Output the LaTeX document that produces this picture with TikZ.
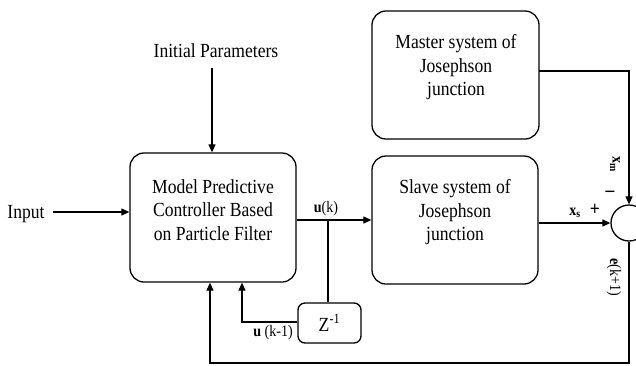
\documentclass[tikz,border=0pt]{standalone}
\usepackage{fontspec}
\setmainfont{Liberation Serif}[FakeStretch=0.88]
\usetikzlibrary{arrows.meta}
\tikzset{
  x=1pt,y=-1pt,
  blk/.style={draw,line width=1.3pt,rounded corners=14pt,inner sep=0pt},
  txt/.style={align=center,font=\fontsize{20}{23.5}\selectfont,inner sep=0pt},
  lbl/.style={font=\fontsize{16}{18}\selectfont,inner sep=0pt},
  sgn/.style={font=\fontsize{20}{20}\selectfont\bfseries,inner sep=0pt},
  conn/.style={line width=1.2pt},
  arr/.style={conn,-{Triangle[length=8pt,width=7pt]}},
}
\begin{document}
\begin{tikzpicture}
\useasboundingbox (0,0) rectangle (636,365);
\clip (0,0) rectangle (636,365);
% blocks
\node[blk,minimum width=166pt,minimum height=129pt] (ctrl) at (213,217.5) {};
\node[txt] (ctrltxt) at (213,210) {Model Predictive\\Controller Based\\on Particle Filter};
\node[blk,minimum width=167pt,minimum height=128pt] (master) at (455.5,75) {};
\node[txt] (mastertxt) at (456,67.5) {Master system of\\Josephson\\junction};
\node[blk,minimum width=166pt,minimum height=128pt] (slave) at (455,220) {};
\node[txt] (slavetxt) at (455,212.5) {Slave system of\\Josephson\\junction};
\node[blk,rounded corners=7pt,minimum width=63pt,minimum height=40pt,font=\fontsize{20}{23}\selectfont] (zinv) at (329.5,323) {Z\textsuperscript{-1}};
\node[draw,circle,line width=1.3pt,minimum size=36pt,inner sep=0pt] (sum) at (629,223) {};
% texts
\node[txt] (ip) at (216,51) {Initial Parameters};
\node[txt] (inp) at (26,214) {Input};
% coordinates
\coordinate (ipa) at (212,68);
\coordinate (ina) at (53,212);
\coordinate (uk) at (328,220);
\coordinate (ukm) at (242,322);
\coordinate (fb) at (210,363);
\coordinate (mo) at (539,71);
% connectors
\draw[arr] (ipa) -- (ipa |- ctrl.north);
\draw[arr] (ina) -- (ina -| ctrl.west);
\draw[arr] (uk -| ctrl.east) -- (uk -| slave.west);
\draw[conn] (uk) -- (uk |- zinv.north);
\draw[arr] (zinv.west |- ukm) -- (ukm) -- (ukm |- ctrl.south);
\draw[arr] (sum.south) |- (fb) -- (fb |- ctrl.south);
\draw[arr] (slave.east |- sum.west) -- (sum.west);
\draw[arr] (mo) -| (sum.north);
% labels
\node[lbl] (uklbl) at (326,209) {\textbf{u}(k)};
\node[lbl] (ukmlbl) at (273,333) {\textbf{u} (k-1)};
\node[lbl,rotate=-90] (xmlbl) at (615,164) {\textbf{x\textsubscript{m}}};
\node[sgn] (minus) at (610,194) {–};
\node[lbl] (xslbl) at (575,213) {\textbf{x\textsubscript{s}}};
\node[sgn] (plus) at (595,210) {+};
\node[lbl,rotate=-90] (elbl) at (614,277) {\textbf{e}(k+1)};
\end{tikzpicture}
\end{document}
